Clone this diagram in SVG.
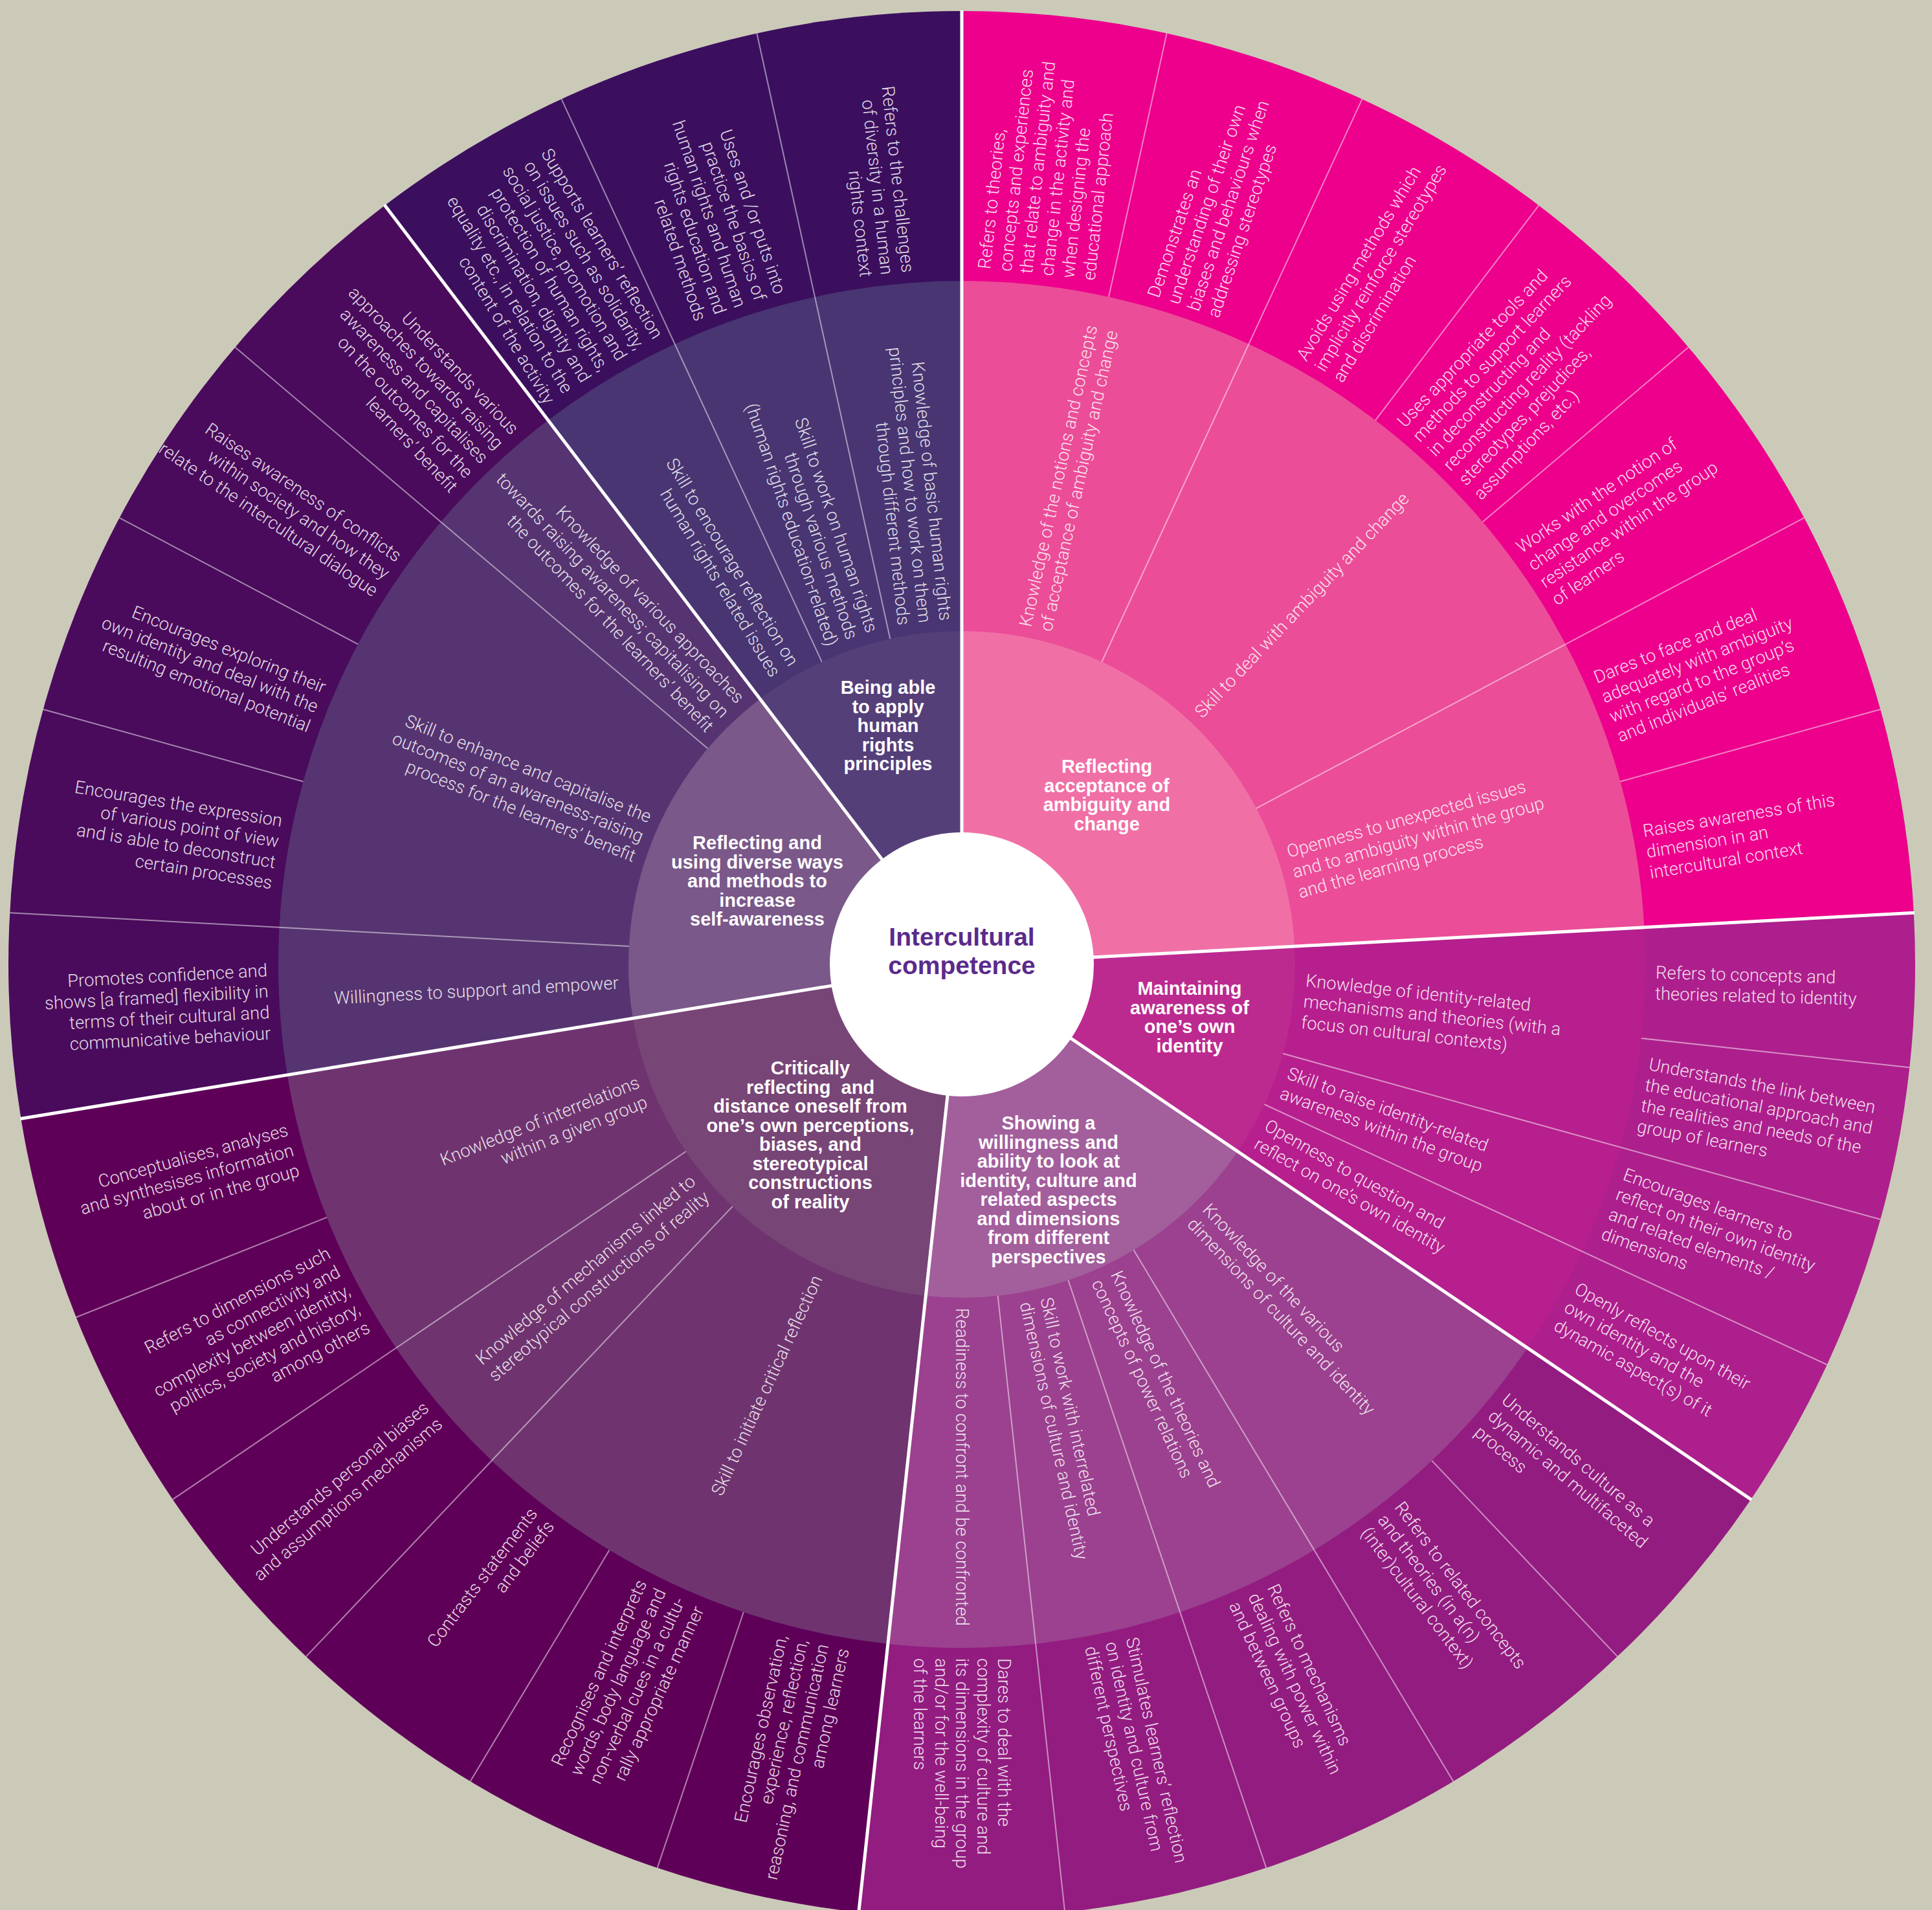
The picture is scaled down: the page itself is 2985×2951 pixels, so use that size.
<svg xmlns="http://www.w3.org/2000/svg" width="2985" height="2951" viewBox="0 0 2985 2951">
<style>
.t{font-family:Roboto,"Liberation Sans",Arial,Helvetica,sans-serif;font-weight:300;font-size:27.5px;fill:#fff;fill-opacity:.85}
.e{text-anchor:end}
.h{font-family:"Liberation Sans",Arial,Helvetica,sans-serif;font-size:29px;font-weight:bold;fill:#fff;text-anchor:middle}
.thin{stroke:#fff;stroke-opacity:.5;stroke-width:2;fill:none}
.sep{stroke:#fff;stroke-width:5}
</style>
<rect width="2985" height="2951" fill="#cbcab8"/>

<g id="cat-ambiguity">
<path fill="#ec008c" d="M1486,1490L1486,17A1473,1473 0 0 1 2956.84,1410.25Z"/>
<path fill="#eb4d98" d="M1486,1490L1486,434A1056,1056 0 0 1 2540.45,1432.83Z"/>
<path fill="#f070a6" d="M1486,1490L1486,975A515,515 0 0 1 2000.24,1462.12Z"/>
<text class="h"><tspan x="1710" y="1194">Reflecting</tspan><tspan x="1710" y="1223.5">acceptance of</tspan><tspan x="1710" y="1253">ambiguity and</tspan><tspan x="1710" y="1282.5">change</tspan></text>
<g transform="translate(1486 1490)" class="t">
<text transform="rotate(-77.5862) translate(531 0)"><tspan x="0" y="-7.25">Knowledge of the notions and concepts</tspan><tspan x="0" y="25.25">of acceptance of ambiguity and change</tspan></text>
<text transform="rotate(-46.5517) translate(531 0)"><tspan x="0" y="9">Skill to deal with ambiguity and change</tspan></text>
<text transform="rotate(-15.5172) translate(531 0)"><tspan x="0" y="-23.5">Openness to unexpected issues</tspan><tspan x="0" y="9">and to ambiguity within the group</tspan><tspan x="0" y="41.5">and the learning process</tspan></text>
<text transform="rotate(-83.7931) translate(1072 0)"><tspan x="0" y="-72.25">Refers to theories,</tspan><tspan x="0" y="-39.75">concepts and experiences</tspan><tspan x="0" y="-7.25">that relate to ambiguity and</tspan><tspan x="0" y="25.25">change in the activity and</tspan><tspan x="0" y="57.75">when designing the</tspan><tspan x="0" y="90.25">educational approach</tspan></text>
<text transform="rotate(-71.3793) translate(1072 0)"><tspan x="0" y="-39.75">Demonstrates an</tspan><tspan x="0" y="-7.25">understanding of their own</tspan><tspan x="0" y="25.25">biases and behaviours when</tspan><tspan x="0" y="57.75">addressing stereotypes</tspan></text>
<text transform="rotate(-58.9655) translate(1072 0)"><tspan x="0" y="-23.5">Avoids using methods which</tspan><tspan x="0" y="9">implicitly reinforce stereotypes</tspan><tspan x="0" y="41.5">and discrimination</tspan></text>
<text transform="rotate(-46.5517) translate(1072 0)"><tspan x="0" y="-72.25">Uses appropriate tools and</tspan><tspan x="0" y="-39.75">methods to support learners</tspan><tspan x="0" y="-7.25">in deconstructing and</tspan><tspan x="0" y="25.25">reconstructing reality (tackling</tspan><tspan x="0" y="57.75">stereotypes, prejudices,</tspan><tspan x="0" y="90.25">assumptions, etc.)</tspan></text>
<text transform="rotate(-34.1379) translate(1072 0)"><tspan x="0" y="-39.75">Works with the notion of</tspan><tspan x="0" y="-7.25">change and overcomes</tspan><tspan x="0" y="25.25">resistance within the group</tspan><tspan x="0" y="57.75">of learners</tspan></text>
<text transform="rotate(-21.7241) translate(1072 0)"><tspan x="0" y="-39.75">Dares to face and deal</tspan><tspan x="0" y="-7.25">adequately with ambiguity</tspan><tspan x="0" y="25.25">with regard to the group’s</tspan><tspan x="0" y="57.75">and individuals’ realities</tspan></text>
<text transform="rotate(-9.3103) translate(1072 0)"><tspan x="0" y="-23.5">Raises awareness of this</tspan><tspan x="0" y="9">dimension in an</tspan><tspan x="0" y="41.5">intercultural context</tspan></text>
</g>
</g>

<g id="cat-identity">
<path fill="#ad1f8c" d="M1486,1490L2956.84,1410.25A1473,1473 0 0 1 2705.19,2316.63Z"/>
<path fill="#b61f8d" d="M1486,1490L2540.45,1432.83A1056,1056 0 0 1 2360.04,2082.61Z"/>
<path fill="#bc2a90" d="M1486,1490L2000.24,1462.12A515,515 0 0 1 1912.26,1779.01Z"/>
<text class="h"><tspan x="1838" y="1537">Maintaining</tspan><tspan x="1838" y="1566.5">awareness of</tspan><tspan x="1838" y="1596">one’s own</tspan><tspan x="1838" y="1625.5">identity</tspan></text>
<g transform="translate(1486 1490)" class="t">
<text transform="rotate(6.2069) translate(531 0)"><tspan x="0" y="-23.5">Knowledge of identity-related</tspan><tspan x="0" y="9">mechanisms and theories (with a</tspan><tspan x="0" y="41.5">focus on cultural contexts)</tspan></text>
<text transform="rotate(20.1724) translate(531 0)"><tspan x="0" y="-7.25">Skill to raise identity-related</tspan><tspan x="0" y="25.25">awareness within the group</tspan></text>
<text transform="rotate(29.4828) translate(531 0)"><tspan x="0" y="-7.25">Openness to question and</tspan><tspan x="0" y="25.25">reflect on one’s own identity</tspan></text>
<text transform="rotate(1.5517) translate(1072 0)"><tspan x="0" y="-7.25">Refers to concepts and</tspan><tspan x="0" y="25.25">theories related to identity</tspan></text>
<text transform="rotate(10.8621) translate(1072 0)"><tspan x="0" y="-39.75">Understands the link between</tspan><tspan x="0" y="-7.25">the educational approach and</tspan><tspan x="0" y="25.25">the realities and needs of the</tspan><tspan x="0" y="57.75">group of learners</tspan></text>
<text transform="rotate(20.1724) translate(1072 0)"><tspan x="0" y="-39.75">Encourages learners to</tspan><tspan x="0" y="-7.25">reflect on their own identity</tspan><tspan x="0" y="25.25">and related elements /</tspan><tspan x="0" y="57.75">dimensions</tspan></text>
<text transform="rotate(29.4828) translate(1072 0)"><tspan x="0" y="-23.5">Openly reflects upon their</tspan><tspan x="0" y="9">own identity and the</tspan><tspan x="0" y="41.5">dynamic aspect(s) of it</tspan></text>
</g>
</g>

<g id="cat-perspectives">
<path fill="#931c80" d="M1486,1490L2705.19,2316.63A1473,1473 0 0 1 1326.74,2954.37Z"/>
<path fill="#9b418f" d="M1486,1490L2360.04,2082.61A1056,1056 0 0 1 1371.83,2539.81Z"/>
<path fill="#a35e9c" d="M1486,1490L1912.26,1779.01A515,515 0 0 1 1430.32,2001.98Z"/>
<text class="h"><tspan x="1620" y="1745">Showing a</tspan><tspan x="1620" y="1774.5">willingness and</tspan><tspan x="1620" y="1804">ability to look at</tspan><tspan x="1620" y="1833.5">identity, culture and</tspan><tspan x="1620" y="1863">related aspects</tspan><tspan x="1620" y="1892.5">and dimensions</tspan><tspan x="1620" y="1922">from different</tspan><tspan x="1620" y="1951.5">perspectives</tspan></text>
<g transform="translate(1486 1490)" class="t">
<text transform="rotate(46.5517) translate(531 0)"><tspan x="0" y="-7.25">Knowledge of the various</tspan><tspan x="0" y="25.25">dimensions of culture and identity</tspan></text>
<text transform="rotate(65.1724) translate(531 0)"><tspan x="0" y="-7.25">Knowledge of the theories and</tspan><tspan x="0" y="25.25">concepts of power relations</tspan></text>
<text transform="rotate(77.5862) translate(531 0)"><tspan x="0" y="-7.25">Skill to work with interrelated</tspan><tspan x="0" y="25.25">dimensions of culture and identity</tspan></text>
<text transform="rotate(90) translate(531 0)"><tspan x="0" y="9">Readiness to confront and be confronted</tspan></text>
<text transform="rotate(40.3448) translate(1072 0)"><tspan x="0" y="-23.5">Understands culture as a</tspan><tspan x="0" y="9">dynamic and multifaceted</tspan><tspan x="0" y="41.5">process</tspan></text>
<text transform="rotate(52.7586) translate(1072 0)"><tspan x="0" y="-23.5">Refers to related concepts</tspan><tspan x="0" y="9">and theories (in a(n)</tspan><tspan x="0" y="41.5">(inter)cultural context)</tspan></text>
<text transform="rotate(65.1724) translate(1072 0)"><tspan x="0" y="-23.5">Refers to mechanisms</tspan><tspan x="0" y="9">dealing with power within</tspan><tspan x="0" y="41.5">and between groups</tspan></text>
<text transform="rotate(77.5862) translate(1072 0)"><tspan x="0" y="-23.5">Stimulates learners’ reflection</tspan><tspan x="0" y="9">on identity and culture from</tspan><tspan x="0" y="41.5">different perspectives</tspan></text>
<text transform="rotate(90) translate(1072 0)"><tspan x="0" y="-56">Dares to deal with the</tspan><tspan x="0" y="-23.5">complexity of culture and</tspan><tspan x="0" y="9">its dimensions in the group</tspan><tspan x="0" y="41.5">and/or for the well-being</tspan><tspan x="0" y="74">of the learners</tspan></text>
</g>
</g>

<g id="cat-critical">
<path fill="#5f0058" d="M1486,1490L1326.74,2954.37A1473,1473 0 0 1 32.41,1728.30Z"/>
<path fill="#6f3470" d="M1486,1490L1371.83,2539.81A1056,1056 0 0 1 443.91,1660.84Z"/>
<path fill="#784577" d="M1486,1490L1430.32,2001.98A515,515 0 0 1 977.78,1573.32Z"/>
<text class="h"><tspan x="1252" y="1660">Critically</tspan><tspan x="1252" y="1689.5">reflecting&#160; and</tspan><tspan x="1252" y="1719">distance oneself from</tspan><tspan x="1252" y="1748.5">one’s own perceptions,</tspan><tspan x="1252" y="1778">biases, and</tspan><tspan x="1252" y="1807.5">stereotypical</tspan><tspan x="1252" y="1837">constructions</tspan><tspan x="1252" y="1866.5">of reality</tspan></text>
<g transform="translate(1486 1490)" class="t e">
<text transform="rotate(114.8276) translate(531 0) rotate(180)"><tspan x="0" y="9">Skill to initiate critical reflection</tspan></text>
<text transform="rotate(139.6552) translate(531 0) rotate(180)"><tspan x="0" y="-7.25">Knowledge of mechanisms linked to</tspan><tspan x="0" y="25.25">stereotypical constructions of reality</tspan></text>
<text transform="rotate(158.2759) translate(531 0) rotate(180)"><tspan x="0" y="-7.25">Knowledge of interrelations</tspan><tspan x="0" y="25.25">within a given group</tspan></text>
<text transform="rotate(102.4138) translate(1072 0) rotate(180)"><tspan x="0" y="-39.75">Encourages observation,</tspan><tspan x="0" y="-7.25">experience, reflection,</tspan><tspan x="0" y="25.25">reasoning, and communication</tspan><tspan x="0" y="57.75">among learners</tspan></text>
<text transform="rotate(114.8276) translate(1072 0) rotate(180)"><tspan x="0" y="-39.75">Recognises and interprets</tspan><tspan x="0" y="-7.25">words, body language and</tspan><tspan x="0" y="25.25">non-verbal cues in a cultu-</tspan><tspan x="0" y="57.75">rally appropriate manner</tspan></text>
<text transform="rotate(127.2414) translate(1072 0) rotate(180)"><tspan x="0" y="-7.25">Contrasts statements</tspan><tspan x="0" y="25.25">and beliefs</tspan></text>
<text transform="rotate(139.6552) translate(1072 0) rotate(180)"><tspan x="0" y="-7.25">Understands personal biases</tspan><tspan x="0" y="25.25">and assumptions mechanisms</tspan></text>
<text transform="rotate(152.0690) translate(1072 0) rotate(180)"><tspan x="0" y="-56">Refers to dimensions such</tspan><tspan x="0" y="-23.5">as connectivity and</tspan><tspan x="0" y="9">complexity between identity,</tspan><tspan x="0" y="41.5">politics, society and history,</tspan><tspan x="0" y="74">among others</tspan></text>
<text transform="rotate(164.4828) translate(1072 0) rotate(180)"><tspan x="0" y="-23.5">Conceptualises, analyses</tspan><tspan x="0" y="9">and synthesises information</tspan><tspan x="0" y="41.5">about or in the group</tspan></text>
</g>
</g>

<g id="cat-self-awareness">
<path fill="#4a0b5c" d="M1486,1490L32.41,1728.30A1473,1473 0 0 1 594.57,317.34Z"/>
<path fill="#563471" d="M1486,1490L443.91,1660.84A1056,1056 0 0 1 846.93,649.32Z"/>
<path fill="#7a5889" d="M1486,1490L977.78,1573.32A515,515 0 0 1 1174.33,1080.01Z"/>
<text class="h"><tspan x="1170" y="1312">Reflecting and</tspan><tspan x="1170" y="1341.5">using diverse ways</tspan><tspan x="1170" y="1371">and methods to</tspan><tspan x="1170" y="1400.5">increase</tspan><tspan x="1170" y="1430">self-awareness</tspan></text>
<g transform="translate(1486 1490)" class="t e">
<text transform="rotate(176.8966) translate(531 0) rotate(180)"><tspan x="0" y="9">Willingness to support and empower</tspan></text>
<text transform="rotate(201.7241) translate(531 0) rotate(180)"><tspan x="0" y="-23.5">Skill to enhance and capitalise the</tspan><tspan x="0" y="9">outcomes of an awareness-raising</tspan><tspan x="0" y="41.5">process for the learners’ benefit</tspan></text>
<text transform="rotate(226.5517) translate(531 0) rotate(180)"><tspan x="0" y="-23.5">Knowledge of various approaches</tspan><tspan x="0" y="9">towards raising awareness; capitalising on</tspan><tspan x="0" y="41.5">the outcomes for the learners’ benefit</tspan></text>
<text transform="rotate(176.8966) translate(1072 0) rotate(180)"><tspan x="0" y="-39.75">Promotes confidence and</tspan><tspan x="0" y="-7.25">shows [a framed] flexibility in</tspan><tspan x="0" y="25.25">terms of their cultural and</tspan><tspan x="0" y="57.75">communicative behaviour</tspan></text>
<text transform="rotate(189.3103) translate(1072 0) rotate(180)"><tspan x="0" y="-39.75">Encourages the expression</tspan><tspan x="0" y="-7.25">of various point of view</tspan><tspan x="0" y="25.25">and is able to deconstruct</tspan><tspan x="0" y="57.75">certain processes</tspan></text>
<text transform="rotate(201.7241) translate(1072 0) rotate(180)"><tspan x="0" y="-23.5">Encourages exploring their</tspan><tspan x="0" y="9">own identity and deal with the</tspan><tspan x="0" y="41.5">resulting emotional potential</tspan></text>
<text transform="rotate(214.1379) translate(1072 0) rotate(180)"><tspan x="0" y="-23.5">Raises awareness of conflicts</tspan><tspan x="0" y="9">within society and how they</tspan><tspan x="0" y="41.5">relate to the intercultural dialogue</tspan></text>
<text transform="rotate(226.5517) translate(1072 0) rotate(180)"><tspan x="0" y="-56">Understands various</tspan><tspan x="0" y="-23.5">approaches towards raising</tspan><tspan x="0" y="9">awareness and capitalises</tspan><tspan x="0" y="41.5">on the outcomes for the</tspan><tspan x="0" y="74">learners’ benefit</tspan></text>
</g>
</g>

<g id="cat-human-rights">
<path fill="#3b0f5e" d="M1486,1490L594.57,317.34A1473,1473 0 0 1 1486,17Z"/>
<path fill="#483572" d="M1486,1490L846.93,649.32A1056,1056 0 0 1 1486,434Z"/>
<path fill="#553f79" d="M1486,1490L1174.33,1080.01A515,515 0 0 1 1486,975Z"/>
<text class="h"><tspan x="1372" y="1072">Being able</tspan><tspan x="1372" y="1101.5">to apply</tspan><tspan x="1372" y="1131">human</tspan><tspan x="1372" y="1160.5">rights</tspan><tspan x="1372" y="1190">principles</tspan></text>
<g transform="translate(1486 1490)" class="t e">
<text transform="rotate(238.9655) translate(531 0) rotate(180)"><tspan x="0" y="-7.25">Skill to encourage reflection on</tspan><tspan x="0" y="25.25">human rights related issues</tspan></text>
<text transform="rotate(251.3793) translate(531 0) rotate(180)"><tspan x="0" y="-23.5">Skill to work on human rights</tspan><tspan x="0" y="9">through various methods</tspan><tspan x="0" y="41.5">(human rights education-related)</tspan></text>
<text transform="rotate(263.7931) translate(531 0) rotate(180)"><tspan x="0" y="-23.5">Knowledge of basic human rights</tspan><tspan x="0" y="9">principles and how to work on them</tspan><tspan x="0" y="41.5">through different methods</tspan></text>
<text transform="rotate(238.9655) translate(1072 0) rotate(180)"><tspan x="0" y="-88.5">Supports learners’ reflection</tspan><tspan x="0" y="-56">on issues such as solidarity,</tspan><tspan x="0" y="-23.5">social justice, promotion and</tspan><tspan x="0" y="9">protection of human rights,</tspan><tspan x="0" y="41.5">discrimination, dignity and</tspan><tspan x="0" y="74">equality etc., in relation to the</tspan><tspan x="0" y="106.5">content of the activity</tspan></text>
<text transform="rotate(251.3793) translate(1072 0) rotate(180)"><tspan x="0" y="-56">Uses and /or puts into</tspan><tspan x="0" y="-23.5">practice the basics of</tspan><tspan x="0" y="9">human rights and human</tspan><tspan x="0" y="41.5">rights education and</tspan><tspan x="0" y="74">related methods</tspan></text>
<text transform="rotate(263.7931) translate(1072 0) rotate(180)"><tspan x="0" y="-23.5">Refers to the challenges</tspan><tspan x="0" y="9">of diversity in a human</tspan><tspan x="0" y="41.5">rights context</tspan></text>
</g>
</g>

<g id="separators" transform="translate(1486 1490)">
<g class="thin">
<line y1="-515" y2="-1473" transform="rotate(24.8276)"/>
<line y1="-515" y2="-1473" transform="rotate(62.0690)"/>
<line y1="-515" y2="-1473" transform="rotate(105.5172)"/>
<line y1="-515" y2="-1473" transform="rotate(114.8276)"/>
<line y1="-515" y2="-1473" transform="rotate(148.9655)"/>
<line y1="-515" y2="-1473" transform="rotate(161.3793)"/>
<line y1="-515" y2="-1473" transform="rotate(173.7931)"/>
<line y1="-515" y2="-1473" transform="rotate(223.4483)"/>
<line y1="-515" y2="-1473" transform="rotate(235.8621)"/>
<line y1="-515" y2="-1473" transform="rotate(273.1034)"/>
<line y1="-515" y2="-1473" transform="rotate(310.3448)"/>
<line y1="-515" y2="-1473" transform="rotate(335.1724)"/>
<line y1="-515" y2="-1473" transform="rotate(347.5862)"/>
<line y1="-1056" y2="-1473" transform="rotate(12.4138)"/>
<line y1="-1056" y2="-1473" transform="rotate(37.2414)"/>
<line y1="-1056" y2="-1473" transform="rotate(49.6552)"/>
<line y1="-1056" y2="-1473" transform="rotate(74.4828)"/>
<line y1="-1056" y2="-1473" transform="rotate(96.2069)"/>
<line y1="-1056" y2="-1473" transform="rotate(136.5517)"/>
<line y1="-1056" y2="-1473" transform="rotate(198.6207)"/>
<line y1="-1056" y2="-1473" transform="rotate(211.0345)"/>
<line y1="-1056" y2="-1473" transform="rotate(248.2759)"/>
<line y1="-1056" y2="-1473" transform="rotate(285.5172)"/>
<line y1="-1056" y2="-1473" transform="rotate(297.9310)"/>
</g>
<g class="sep">
<line y1="0" y2="-1474"/>
<line y1="0" y2="-1474" transform="rotate(86.8966)"/>
<line y1="0" y2="-1474" transform="rotate(124.1379)"/>
<line y1="0" y2="-1474" transform="rotate(186.2069)"/>
<line y1="0" y2="-1474" transform="rotate(260.6897)"/>
<line y1="0" y2="-1474" transform="rotate(322.7586)"/>
</g>
</g>

<g id="center">
<circle cx="1486" cy="1490" r="204" fill="#fff"/>
<text font-family="Liberation Sans, Arial, Helvetica, sans-serif" font-size="39" font-weight="bold" fill="#5b2a8b" text-anchor="middle"><tspan x="1486" y="1461">Intercultural</tspan><tspan x="1486" y="1505">competence</tspan></text>
</g>
</svg>
